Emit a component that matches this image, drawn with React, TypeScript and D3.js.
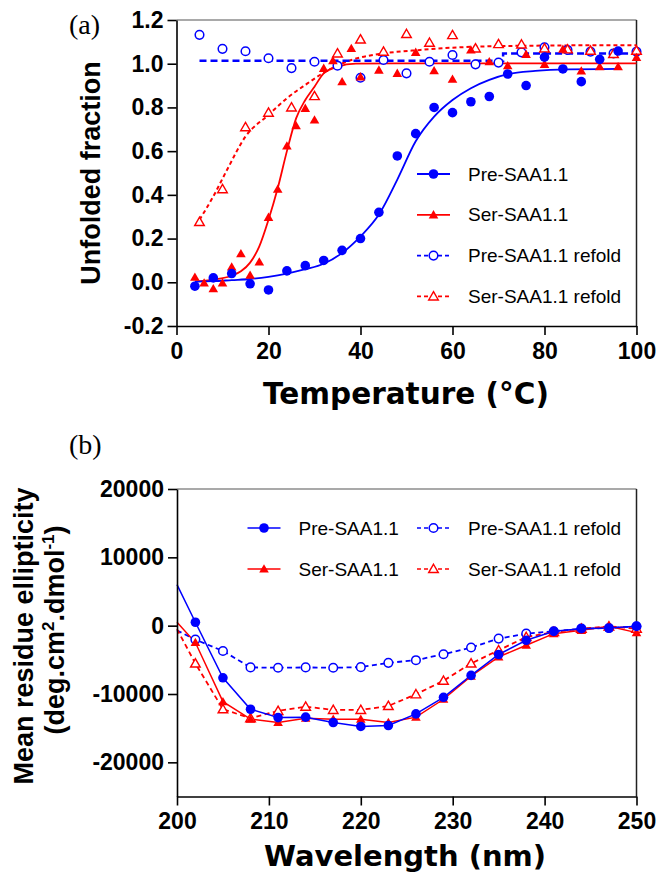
import React, { useEffect, useRef } from 'react';
import * as d3 from 'd3';

// ---- panel (a): unfolded fraction vs temperature ----
const tempPre = [4, 8, 12, 16, 20, 24, 28, 32, 36, 40, 44, 48, 52, 56, 60, 64, 68, 72, 76, 80, 84, 88, 92, 96];
const fracPre = [-0.018, 0.02, 0.04, -0.007, -0.035, 0.052, 0.076, 0.1, 0.146, 0.2, 0.32, 0.578, 0.68, 0.8, 0.776, 0.826, 0.85, 0.953, 0.9, 1.03, 0.976, 0.918, 1.02, 1.058];

const tempSer = [4, 6, 8, 10, 12, 14, 16, 18, 20, 22, 24, 26, 28, 30, 32, 34, 36, 38, 40, 44, 48, 52, 56, 60, 64, 68, 72, 76, 80, 84, 88, 92, 96, 100];
const fracSer = [0.023, -0.003, -0.029, -0.003, 0.07, 0.131, 0.032, 0.093, 0.297, 0.426, 0.624, 0.716, 0.796, 0.743, 0.979, 1.014, 0.918, 1.07, 0.94, 0.971, 0.956, 1.052, 0.968, 0.929, 1.063, 1.009, 0.991, 1.043, 0.997, 1.066, 0.967, 0.986, 0.986, 1.029];

const tempRefold = [5, 10, 15, 20, 25, 30, 35, 40, 45, 50, 55, 60, 65, 70, 75, 80, 85, 90, 95, 100];
const fracPreRefold = [1.132, 1.068, 1.057, 1.025, 0.98, 1.009, 0.991, 0.936, 1.017, 0.956, 1.009, 1.04, 0.997, 1.005, 1.052, 1.075, 1.063, 1.055, 1.047, 1.055];
const fracSerRefold = [0.276, 0.426, 0.71, 0.776, 0.8, 0.852, 1.047, 1.111, 1.055, 1.136, 1.096, 1.131, 1.07, 1.09, 1.088, 1.07, 1.066, 1.06, 1.045, 1.06];

// fitted curves
const fitPreT = [4, 8, 12, 16, 20, 24, 28, 32, 36, 40, 44, 48, 52, 56, 60, 64, 68, 72, 78, 85, 96];
const fitPreV = [0.003, 0.005, 0.01, 0.015, 0.025, 0.04, 0.06, 0.085, 0.134, 0.21, 0.31, 0.47, 0.645, 0.758, 0.834, 0.888, 0.926, 0.952, 0.967, 0.974, 0.976];
const fitSerT = [4, 8, 12, 14, 16, 18, 20, 22, 24, 26, 28, 30, 32, 35, 39, 50, 100];
const fitSerV = [0.003, 0.012, 0.03, 0.05, 0.09, 0.164, 0.286, 0.43, 0.6, 0.75, 0.834, 0.895, 0.956, 0.986, 1.0, 1.002, 1.002];
const fitPreRefoldT = [5, 71, 71, 100];
const fitPreRefoldV = [1.013, 1.013, 1.047, 1.047];
const fitSerRefoldT = [5, 8, 11, 15, 20, 24, 28, 33, 38, 45, 53, 65, 80, 100];
const fitSerRefoldV = [0.286, 0.393, 0.515, 0.667, 0.766, 0.842, 0.903, 0.971, 1.017, 1.047, 1.063, 1.078, 1.083, 1.085];

const ticksA_x = [0, 20, 40, 60, 80, 100];
const ticksA_y = [-0.2, 0, 0.2, 0.4, 0.6, 0.8, 1.0, 1.2];

// ---- panel (b): CD spectra ----
const wavelengths = [200, 202, 205, 208, 211, 214, 217, 220, 223, 226, 229, 232, 235, 238, 241, 244, 247, 250];
const cdPre = [6000, 500, -7630, -12230, -13450, -13390, -14170, -14750, -14610, -12910, -10480, -7280, -4220, -2140, -830, -440, -350, -100];
const cdSer = [500, -2470, -11120, -13680, -14170, -13540, -13680, -13680, -14170, -13390, -10770, -7380, -4570, -2870, -1170, -680, -100, -1020];
const cdPreRefold = [-700, -2040, -3700, -6110, -6160, -6110, -6160, -6070, -5440, -5050, -4180, -3200, -1890, -1170, -830, -440, -350, -100];
const cdSerRefold = [-500, -5530, -12230, -13540, -12470, -11850, -12330, -12330, -11750, -10040, -8060, -5530, -3600, -1660, -930, -440, -100, -440];

const ticksB_x = [200, 210, 220, 230, 240, 250];
const ticksB_y = [-20000, -10000, 0, 10000, 20000];

const legendLabels = ['Pre-SAA1.1', 'Ser-SAA1.1', 'Pre-SAA1.1 refold', 'Ser-SAA1.1 refold'];

const BLUE = '#0000ff';
const RED = '#ff0000';
const SANS = '"Liberation Sans", Arial, Helvetica, sans-serif';
const WIDE = '"DejaVu Sans", Verdana, sans-serif';
const SERIF = '"Liberation Serif", "Times New Roman", serif';

const triPath = d3.symbol(d3.symbolTriangle, 40)();

const Marker = ({ kind, x, y, color }) => {
  if (kind === 'dot') return <circle cx={x} cy={y} r={4.8} fill={color} />;
  if (kind === 'ring') return <circle cx={x} cy={y} r={4.3} fill="#fff" stroke={color} strokeWidth={1.5} />;
  if (kind === 'tri') return <path d={triPath} transform={`translate(${x},${y + 0.8})`} fill={color} />;
  return <path d={triPath} transform={`translate(${x},${y + 0.8})`} fill="#fff" stroke={color} strokeWidth={1.4} />;
};

const styleAxis = (g) => {
  g.attr('font-family', SANS).attr('font-size', 23).attr('font-weight', 'bold');
  g.selectAll('.domain').attr('stroke', '#000').attr('stroke-width', 1.6);
  g.selectAll('.tick line').attr('stroke', '#000').attr('stroke-width', 1.6);
  g.selectAll('.tick text').attr('fill', '#000');
};

export default function App() {
  const axA_x = useRef(null);
  const axA_y = useRef(null);
  const axB_x = useRef(null);
  const axB_y = useRef(null);

  const xA = d3.scaleLinear().domain([0, 100]).range([176.5, 636.5]);
  const yA = d3.scaleLinear().domain([-0.2, 1.2]).range([326, 20]);
  const xB = d3.scaleLinear().domain([200, 250]).range([177, 636.5]);
  const yB = d3.scaleLinear().domain([-25000, 20000]).range([796.5, 489]);

  useEffect(() => {
    document.body.style.margin = '0';
    d3.select(axA_x.current)
      .call(d3.axisBottom(xA).tickValues(ticksA_x).tickSize(9).tickSizeOuter(0).tickPadding(8).tickFormat((d) => String(d)))
      .call(styleAxis);
    d3.select(axA_y.current)
      .call(d3.axisLeft(yA).tickValues(ticksA_y).tickSize(9).tickSizeOuter(0).tickPadding(4).tickFormat((d) => d.toFixed(1)))
      .call(styleAxis);
    d3.select(axB_x.current)
      .call(d3.axisBottom(xB).tickValues(ticksB_x).tickSize(9).tickSizeOuter(0).tickPadding(7).tickFormat((d) => String(d)))
      .call(styleAxis);
    d3.select(axB_y.current)
      .call(d3.axisLeft(yB).tickValues(ticksB_y).tickSize(9).tickSizeOuter(0).tickPadding(4).tickFormat((d) => String(d)))
      .call(styleAxis);
  }, []);

  const zipA = (ts, vs) => ts.map((t, i) => [xA(t), yA(vs[i])]);
  const zipB = (vs) => wavelengths.map((w, i) => [xB(w), yB(vs[i])]);
  const smooth = d3.line().curve(d3.curveMonotoneX);
  const straight = d3.line();

  const seriesA = [
    { t: tempRefold, v: fracPreRefold, kind: 'ring', color: BLUE },
    { t: tempRefold, v: fracSerRefold, kind: 'otri', color: RED },
    { t: tempSer, v: fracSer, kind: 'tri', color: RED },
    { t: tempPre, v: fracPre, kind: 'dot', color: BLUE },
  ];

  const seriesB = [
    { v: cdPreRefold, kind: 'ring', color: BLUE, dash: '5,3.5' },
    { v: cdSerRefold, kind: 'otri', color: RED, dash: '5,3.5' },
    { v: cdSer, kind: 'tri', color: RED, dash: null },
    { v: cdPre, kind: 'dot', color: BLUE, dash: null },
  ];

  const legendKinds = ['dot', 'tri', 'ring', 'otri'];
  const legendColors = [BLUE, RED, BLUE, RED];
  const legendDash = [null, null, '4,3', '4,3'];

  return (
    <svg width={662} height={875} style={{ position: 'absolute', left: 0, top: 0, background: '#fff' }}>
      {/* ---------- panel (a) ---------- */}
      <text x={69} y={34} fontFamily={SERIF} fontSize={28}>(a)</text>
      <line x1={176.5} y1={20} x2={636.5} y2={20} stroke="#555" strokeWidth={1.2} />
      <line x1={636.5} y1={20} x2={636.5} y2={326} stroke="#222" strokeWidth={1.5} />

      <path d={smooth(zipA(fitSerRefoldT, fitSerRefoldV))} fill="none" stroke={RED} strokeWidth={2} strokeDasharray="4,3" />
      <path d={straight(zipA(fitPreRefoldT, fitPreRefoldV))} fill="none" stroke={BLUE} strokeWidth={2.5} strokeDasharray="7,4" />
      <path d={smooth(zipA(fitSerT, fitSerV))} fill="none" stroke={RED} strokeWidth={1.8} />
      <path d={smooth(zipA(fitPreT, fitPreV))} fill="none" stroke={BLUE} strokeWidth={1.8} />

      {seriesA.map((s, si) => (
        <g key={si}>
          {s.t.map((t, i) => (
            <Marker key={i} kind={s.kind} x={xA(t)} y={yA(s.v[i])} color={s.color} />
          ))}
        </g>
      ))}

      <g ref={axA_x} transform="translate(0,326)" />
      <g ref={axA_y} transform="translate(176.5,0)" />

      <text transform="translate(100,173) rotate(-90)" textAnchor="middle" fontFamily={SANS} fontWeight="bold" fontSize={27}>
        Unfolded fraction
      </text>
      <text x={406} y={404} textAnchor="middle" fontFamily={WIDE} fontWeight="bold" fontSize={29.5}>
        Temperature (°C)
      </text>

      {legendLabels.map((lab, i) => {
        const y = 174 + i * 40.8;
        return (
          <g key={lab}>
            <line x1={417} x2={450} y1={y} y2={y} stroke={legendColors[i]} strokeWidth={1.8} strokeDasharray={legendDash[i] || undefined} />
            <Marker kind={legendKinds[i]} x={433.5} y={y} color={legendColors[i]} />
            <text x={468} y={y} dy="0.35em" fontFamily={SANS} fontSize={19}>{lab}</text>
          </g>
        );
      })}

      {/* ---------- panel (b) ---------- */}
      <text x={69} y={454} fontFamily={SERIF} fontSize={28}>(b)</text>
      <line x1={177} y1={489} x2={636.5} y2={489} stroke="#555" strokeWidth={1.2} />
      <line x1={636.5} y1={489} x2={636.5} y2={796.5} stroke="#222" strokeWidth={1.5} />

      {seriesB.map((s, si) => (
        <path key={si} d={straight(zipB(s.v))} fill="none" stroke={s.color} strokeWidth={s.dash ? 1.8 : 1.5} strokeDasharray={s.dash || undefined} />
      ))}
      {seriesB.map((s, si) => (
        <g key={si}>
          {wavelengths.map((w, i) =>
            w > 200 ? <Marker key={i} kind={s.kind} x={xB(w)} y={yB(s.v[i])} color={s.color} /> : null
          )}
        </g>
      ))}

      <g ref={axB_x} transform="translate(0,796.5)" />
      <g ref={axB_y} transform="translate(177,0)" />

      <text transform="translate(33,636) rotate(-90)" textAnchor="middle" fontFamily={SANS} fontWeight="bold" fontSize={27}>
        Mean residue ellipticity
      </text>
      <text transform="translate(64,630) rotate(-90)" textAnchor="middle" fontFamily={SANS} fontWeight="bold" fontSize={27}>
        (deg.cm<tspan dy={-10} fontSize={17}>2</tspan>
        <tspan dy={10}>.dmol</tspan>
        <tspan dy={-10} fontSize={17}>-1</tspan>
        <tspan dy={10}>)</tspan>
      </text>
      <text x={405} y={866} textAnchor="middle" fontFamily={WIDE} fontWeight="bold" fontSize={29}>
        Wavelength (nm)
      </text>

      {legendLabels.map((lab, i) => {
        const col = i < 2 ? 0 : 1;
        const row = i % 2;
        const x0 = col === 0 ? 247.5 : 417;
        const y = 528 + row * 41;
        return (
          <g key={'b' + lab}>
            <line x1={x0} x2={x0 + 33} y1={y} y2={y} stroke={legendColors[i]} strokeWidth={1.6} strokeDasharray={legendDash[i] || undefined} />
            <Marker kind={legendKinds[i]} x={x0 + 16.5} y={y} color={legendColors[i]} />
            <text x={x0 + 51} y={y} dy="0.35em" fontFamily={SANS} fontSize={19}>{lab}</text>
          </g>
        );
      })}
    </svg>
  );
}
